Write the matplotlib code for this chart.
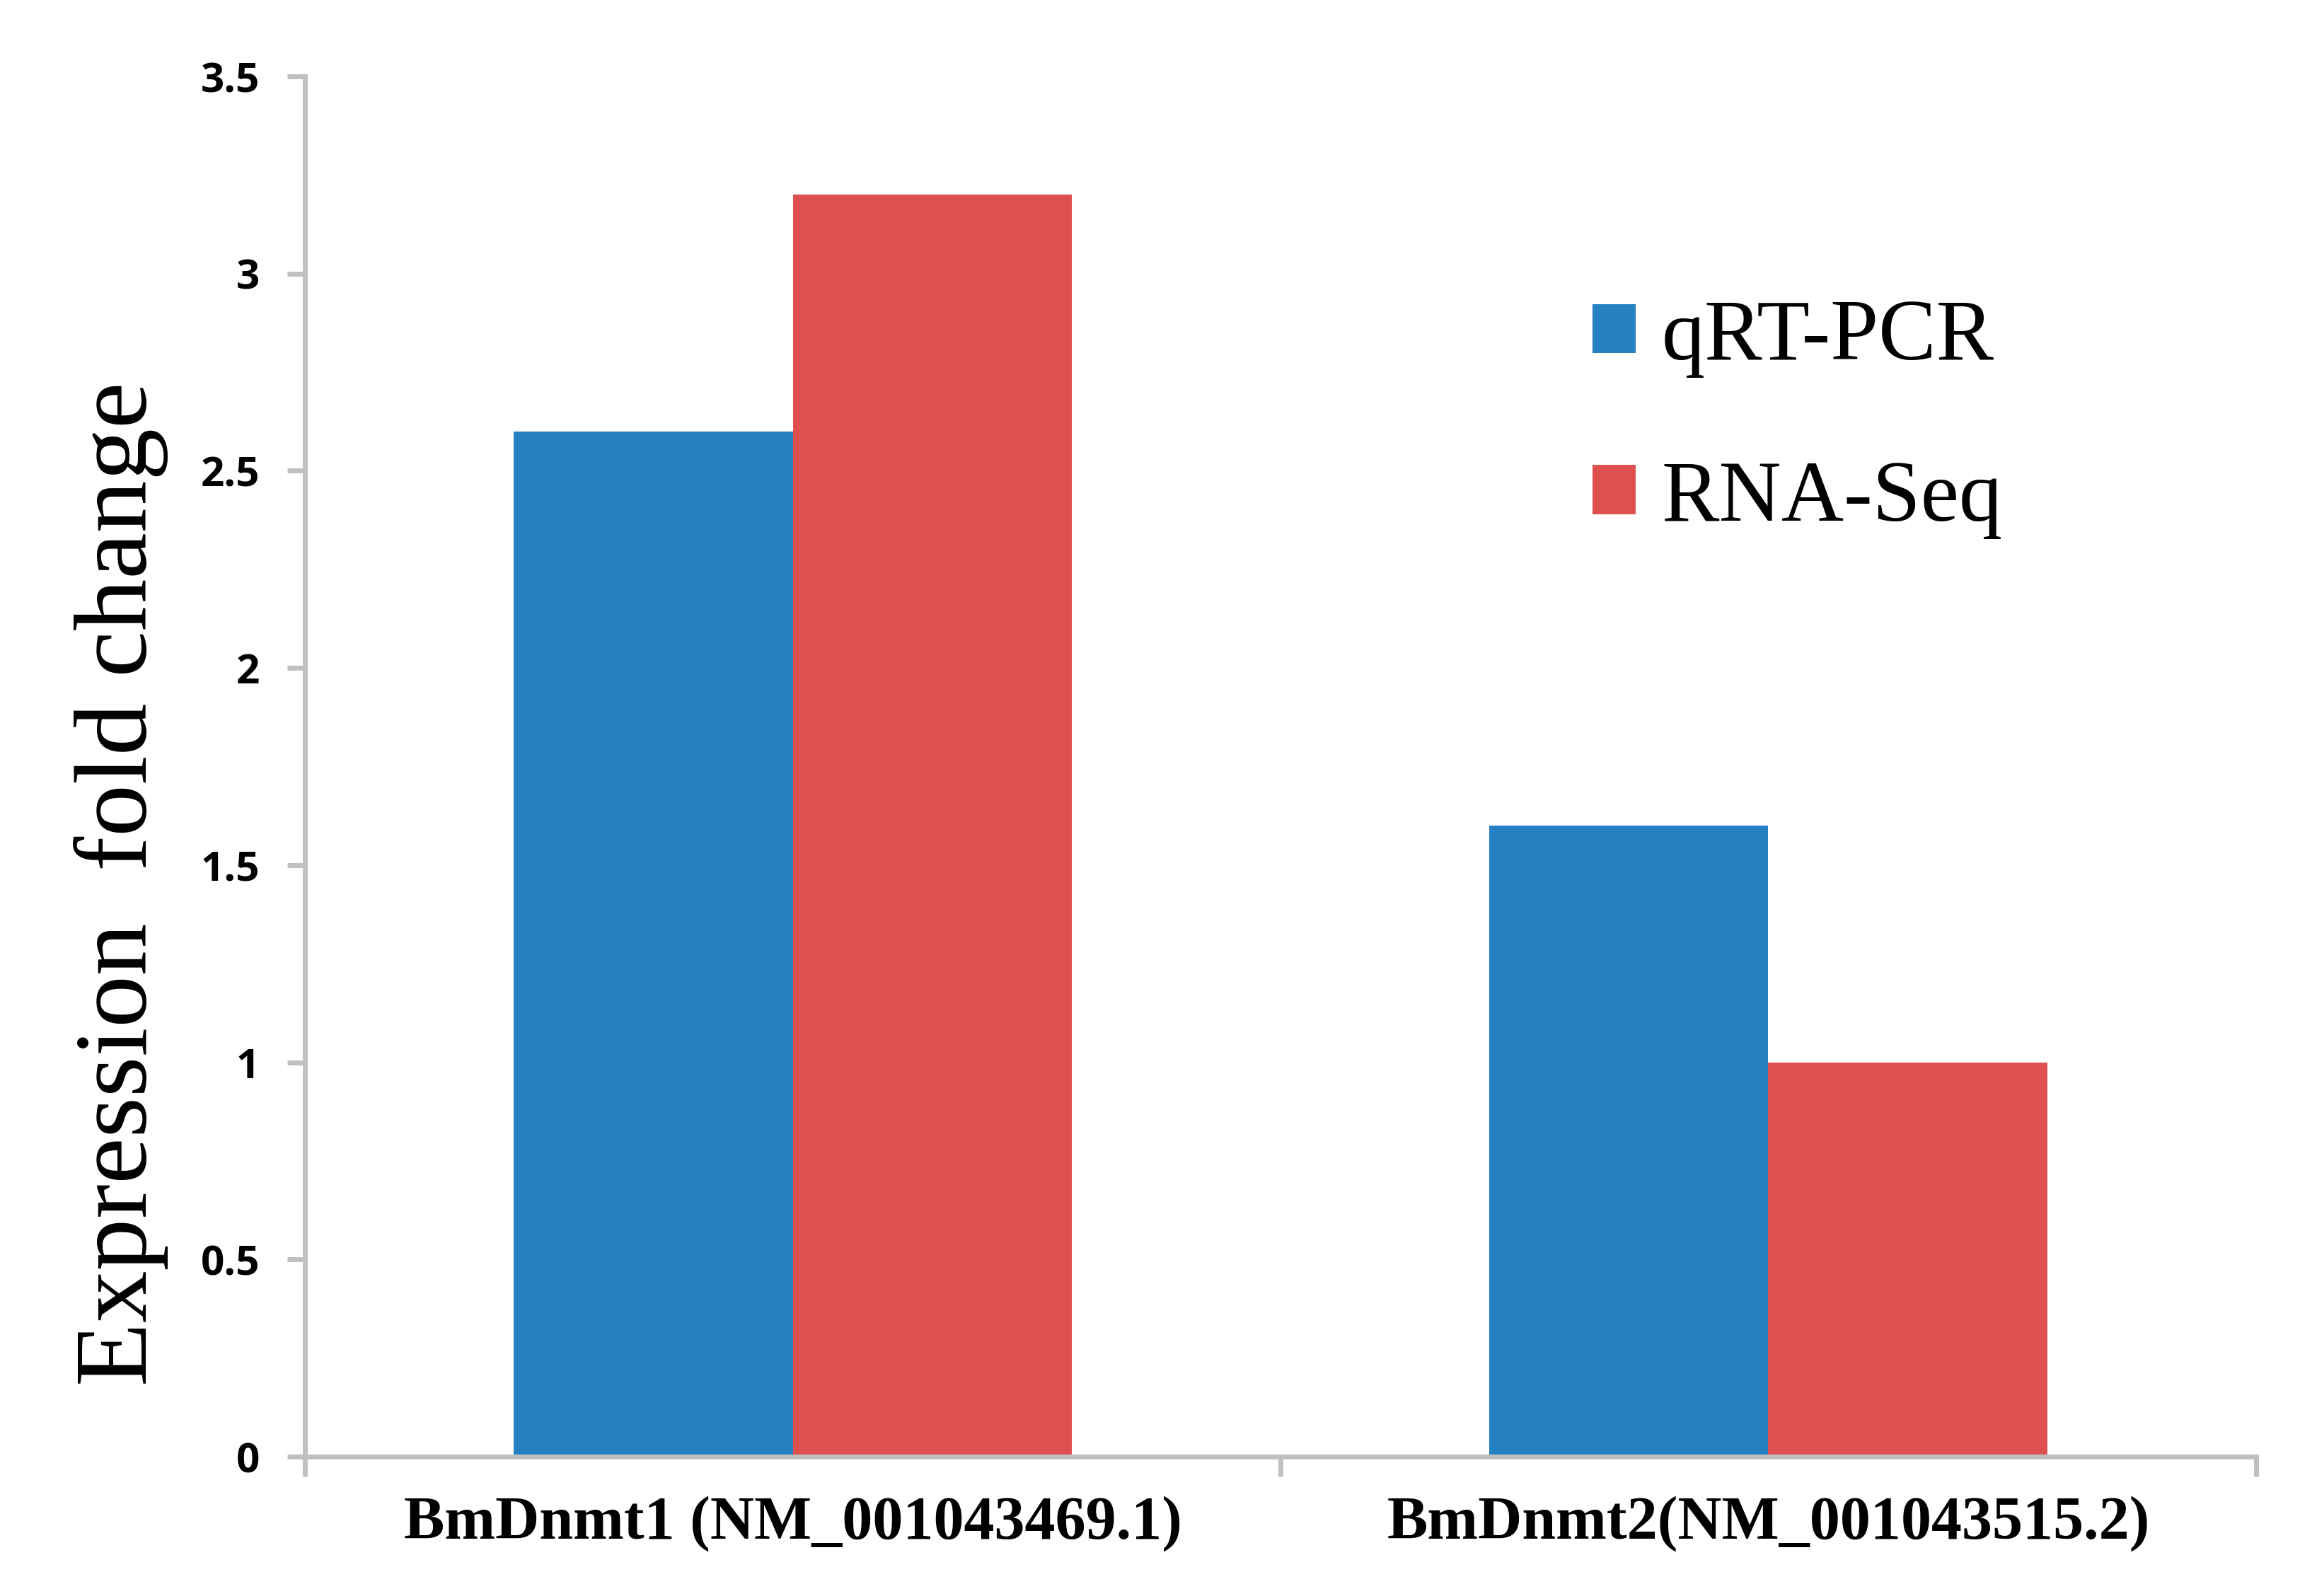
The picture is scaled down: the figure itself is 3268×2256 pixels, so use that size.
import matplotlib
matplotlib.use("Agg")
import matplotlib.pyplot as plt
import numpy as np

# Data
genes = ["BmDnmt1 (NM_001043469.1)", "BmDnmt2(NM_001043515.2)"]
qrt_pcr = [2.6, 1.6]
rna_seq = [3.2, 1.0]
series_names = ["qRT-PCR", "RNA-Seq"]
y_ticks = [0, 0.5, 1, 1.5, 2, 2.5, 3, 3.5]
y_tick_labels = ["0", "0.5", "1", "1.5", "2", "2.5", "3", "3.5"]

blue = "#2681C2"
red = "#DE504F"
spine_gray = "#C0C0C0"

fig = plt.figure(figsize=(16.34, 11.28), dpi=200)
ax = fig.add_axes([0.1319, 0.0873, 0.8439, 0.8648])

x = np.arange(len(genes))
w = 0.286
b1 = ax.bar(x - w / 2, qrt_pcr, width=w, color=blue, label=series_names[0], zorder=2)
b2 = ax.bar(x + w / 2, rna_seq, width=w, color=red, label=series_names[1], zorder=2)

ax.set_xlim(-0.5, len(genes) - 0.5)
ax.set_ylim(0, 3.5)

# spines
for s in ["top", "right"]:
    ax.spines[s].set_visible(False)
for s in ["left", "bottom"]:
    ax.spines[s].set_color(spine_gray)
    ax.spines[s].set_linewidth(2.5)
    ax.spines[s].set_zorder(3)

# y ticks
ax.set_yticks(y_ticks)
ax.set_yticklabels(y_tick_labels, fontfamily="Open Sans", fontweight="bold", fontsize=21)
ax.tick_params(axis="y", direction="out", length=9, width=2.5, color=spine_gray, pad=14)

# x ticks: marks at the category boundaries, labels at the centers
ax.set_xticks(np.arange(len(genes) + 1) - 0.5)
ax.set_xticklabels([])
ax.tick_params(axis="x", which="major", direction="out", length=10, width=2.5, color=spine_gray)
ax.set_xticks(x, minor=True)
ax.set_xticklabels(genes, minor=True, fontfamily="Liberation Serif", fontweight="bold", fontsize=31)
ax.tick_params(axis="x", which="minor", length=0, pad=20)

ax.set_ylabel("Expression  fold change", fontfamily="Liberation Serif", fontsize=53)
ax.yaxis.set_label_coords(-0.070, 0.415)

ax.legend(handles=[b1, b2], loc="center left", bbox_to_anchor=(0.6888, 0.7376),
          bbox_transform=fig.transFigure, frameon=False, borderpad=0, borderaxespad=0,
          handlelength=0.5, handleheight=0.5, handletextpad=0.3, labelspacing=0.95,
          prop={"family": "Liberation Serif", "size": 44})

fig.savefig("out.png", dpi=200)
